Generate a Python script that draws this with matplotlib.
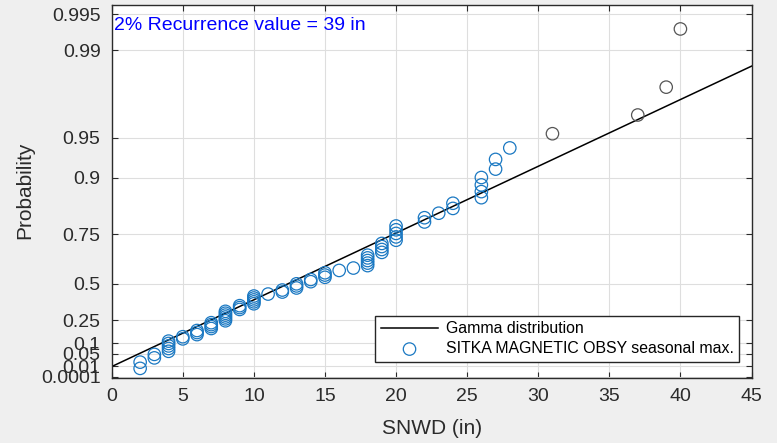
import math

import numpy as np
import matplotlib
matplotlib.use("Agg")
import matplotlib.pyplot as plt

# seasonal maximum snow depth (in) and how many seasons reached each value
snwd_values = [2, 3, 4, 5, 6, 7, 8, 9, 10, 11, 12, 13, 14, 15, 16, 17, 18, 19, 20,
               22, 23, 24, 26, 27, 28, 31, 37, 39, 40]
snwd_counts = [2, 2, 5, 2, 3, 4, 6, 3, 5, 1, 2, 3, 2, 3, 1, 1, 5, 4, 5,
               2, 1, 2, 4, 2, 1, 1, 1, 1, 1]

prob_ticks = [0.0001, 0.01, 0.05, 0.1, 0.25, 0.5, 0.75, 0.9, 0.95, 0.99, 0.995]
prob_labels = ['0.0001', '0.01', '0.05', '0.1', '0.25', '0.5', '0.75', '0.9',
               '0.95', '0.99', '0.995']
x_ticks = [0, 5, 10, 15, 20, 25, 30, 35, 40, 45]

# gamma model used for the probability axis and the reference line
gamma_shape = 2.5
line_scale = 6.52   # in per unit of standard gamma quantile
line_loc = -1.79    # in

note_text = '2% Recurrence value = 39 in'
station = 'SITKA MAGNETIC OBSY seasonal max.'


def gamma_cdf(x, a):
    x = np.atleast_1d(np.asarray(x, float))
    term = np.full_like(x, 1.0 / a)
    total = term.copy()
    for n in range(1, 250):
        term = term * x / (a + n)
        total += term
    logx = np.log(np.maximum(x, 1e-300))
    return np.exp(-x + a * logx - math.lgamma(a)) * total


def gamma_ppf(p, a):
    p = np.atleast_1d(np.asarray(p, float))
    lo = np.zeros_like(p)
    hi = np.full_like(p, 40.0)
    for _ in range(80):
        mid = 0.5 * (lo + hi)
        below = gamma_cdf(mid, a) < p
        lo = np.where(below, mid, lo)
        hi = np.where(below, hi, mid)
    return 0.5 * (lo + hi)


data = np.repeat(snwd_values, snwd_counts).astype(float)
n = len(data)
pp = (np.arange(1, n + 1) - 0.5) / n
yq = gamma_ppf(pp, gamma_shape)

plt.rcParams['font.family'] = ['Liberation Sans', 'DejaVu Sans']
text_col = '#2b2b2b'

fig = plt.figure(figsize=(7.77, 4.43), dpi=100)
fig.patch.set_facecolor('#efefef')
ax = fig.add_axes([111.7 / 777, 1 - 377.8 / 443, 639.8 / 777, 372.8 / 443])

ax.grid(True, color='#dedede', linewidth=0.8)
ax.set_axisbelow(True)

xl = np.array([0, 45])
line, = ax.plot(xl, (xl - line_loc) / line_scale, color='black', linewidth=1.1,
                label='Gamma distribution')

blue = data <= 30
pts = ax.scatter(data[blue], yq[blue], s=80, facecolors='none', edgecolors='#1a78c2',
                 linewidths=0.9, zorder=3)
ax.scatter(data[~blue], yq[~blue], s=80, facecolors='none', edgecolors='#555555',
           linewidths=0.9, zorder=3)

ax.set_xlim(0, 45)
ax.set_ylim(gamma_ppf(1e-5, gamma_shape)[0], gamma_ppf(0.9958, gamma_shape)[0])
ax.set_xticks(x_ticks)
ax.set_yticks(gamma_ppf(prob_ticks, gamma_shape))
ax.set_yticklabels(prob_labels)
ax.tick_params(direction='in', length=4, width=0.8, top=True, right=True,
               labelsize=14, colors=text_col)
ax.tick_params(axis='x', pad=7)
ax.tick_params(axis='y', pad=8)
for s in ax.spines.values():
    s.set_color(text_col)
    s.set_linewidth(1.0)

ax.set_xlabel('SNWD (in)', fontsize=15, color=text_col)
ax.set_ylabel('Probability', fontsize=15, color=text_col)
ax.xaxis.set_label_coords(0.5006, -0.1347)
ax.xaxis.label.set_va('center')
ax.yaxis.set_label_coords(-0.1355, 0.504)
ax.yaxis.label.set_va('center')

ax.text(0.003, 0.946, note_text, transform=ax.transAxes, color='blue',
        fontsize=14, va='center', ha='left')

leg = ax.legend([line, pts], ['Gamma distribution', station], loc='lower right',
                bbox_to_anchor=(0.981, 0.043), fontsize=11.4, frameon=True,
                fancybox=False, framealpha=1, edgecolor='#262626',
                handlelength=3.6, handletextpad=0.5, borderpad=0.35,
                labelspacing=0.3, borderaxespad=0)
leg.get_frame().set_linewidth(1.0)

fig.savefig('out.png', dpi=100, facecolor=fig.get_facecolor())
